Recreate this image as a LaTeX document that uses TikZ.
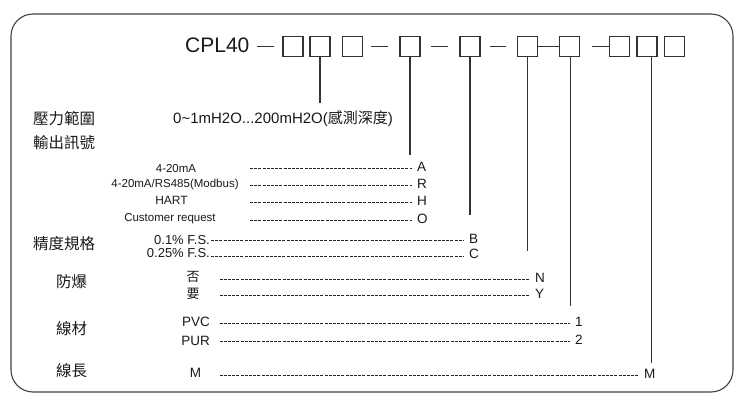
\documentclass[tikz,border=0pt]{standalone}
\usepackage{fontspec}
\setmainfont{Liberation Sans}
\newfontfamily\cjk{Noto Sans CJK TC}
\usetikzlibrary{calc}

\begin{document}
\begin{tikzpicture}[x=1pt, y=-1pt,
	slot/.style={draw=black!80, line width=1.2pt, minimum width=20pt, minimum height=20pt, inner sep=0pt},
	bar/.style={draw=black!80, line width=1.2pt},
	tick/.style={draw=black!80, line width=1.3pt},
	optline/.style={draw=black!85, line width=0.7pt, dash pattern=on 3pt off 1.2pt},
	head/.style={inner sep=0pt, anchor=base west, text=black!90, font=\cjk\fontsize{15.5}{15.5}\selectfont},
	opt/.style={inner sep=0pt, text=black!90, font=\fontsize{11.5}{11.5}\selectfont},
	code/.style={inner sep=5pt, anchor=base west, text height=6pt, text depth=0pt, text=black!90, font=\fontsize{13.5}{13.5}\selectfont}]
			%%%%% START %%%%%
			
			\useasboundingbox (0, 0) rectangle (746, 400);
			\draw[black!75, line width=1.1pt, rounded corners=22pt] (11, 14) rectangle (733, 392);
			
			%%%%% model code %%%%%
			\node[inner sep=0pt, anchor=base west, text=black!90, font=\fontsize{21}{21}\selectfont] (cpl) at (185, 52.5) {CPL40};
			\node[slot] (b1) at (293, 46.3) {};
			\node[slot] (b2) at (320, 46.3) {};
			\node[slot] (b3) at (352.3, 46.3) {};
			\node[slot] (b4) at (410, 46.3) {};
			\node[slot] (b5) at (470, 46.3) {};
			\node[slot] (b6) at (527.2, 46.3) {};
			\node[slot] (b7) at (569.5, 46.3) {};
			\node[slot] (b8) at (619.5, 46.3) {};
			\node[slot] (b9) at (647, 46.3) {};
			\node[slot] (b10) at (674.5, 46.3) {};
			
			\draw[bar] ([xshift=-8pt]b1.west) -- +(-17, 0);
			\draw[bar] ([xshift=-11.5pt]b4.west) -- +(-16.6, 0);
			\draw[bar] ([xshift=-11.5pt]b5.west) -- +(-16.6, 0);
			\draw[bar] ([xshift=-10.5pt]b6.west) -- +(-16.6, 0);
			\draw[bar] (b6.east) -- (b7.west);
			\draw[bar] (b8.west) -- +(-16.6, 0);
			
			%%%%% left headings %%%%%
			\node[head] (hRange) at (33, 124) {壓力範圍};
			\node[head] (hOut) at (33, 148.6) {輸出訊號};
			\node[head] (hAcc) at (33, 249.9) {精度規格};
			\node[head] (hEx) at (56, 287.6) {防爆};
			\node[head] (hCab) at (56, 334.2) {線材};
			\node[head] (hLen) at (56, 376.9) {線長};
			
			%%%%% range %%%%%
			\node[inner sep=0pt, anchor=base west, text=black!90, font=\fontsize{15}{15}\selectfont] (vRange) at (173, 123.5) {0\textasciitilde1mH2O...200mH2O({\cjk 感測深度})};
			
			%%%%% output %%%%%
			\node[opt, anchor=base] (oA) at (176, 172.4) {4-20mA};
			\node[opt, anchor=base] (oR) at (175, 187.4) {4-20mA/RS485(Modbus)};
			\node[opt, anchor=base, font=\fontsize{12}{12}\selectfont] (oH) at (171.5, 204.3) {HART};
			\node[opt, anchor=base] (oO) at (170, 221) {Customer request};
			\node[code] (lA) at (412, 171.6) {A};
			\node[code] (lR) at (412, 188.2) {R};
			\node[code] (lH) at (412, 205.2) {H};
			\node[code] (lO) at (412, 223) {O};
			\coordinate (s1) at (250, 0);
			\draw[optline] (s1 |- lA.west) -- (lA.west);
			\draw[optline] (s1 |- lR.west) -- (lR.west);
			\draw[optline] (s1 |- lH.west) -- (lH.west);
			\draw[optline] (s1 |- lO.west) -- (lO.west);
			
			%%%%% accuracy %%%%%
			\node[opt, anchor=base east, inner sep=1pt, font=\fontsize{13}{13}\selectfont] (oB) at (211, 244.5) {0.1\% F.S.};
			\node[opt, anchor=base east, inner sep=1pt, font=\fontsize{13}{13}\selectfont] (oC) at (211, 257.8) {0.25\% F.S.};
			\node[code] (lB) at (464, 243.2) {B};
			\node[code] (lC) at (464, 258.9) {C};
			\draw[optline] (oB.east |- lB.west) -- (lB.west);
			\draw[optline] (oC.east |- lC.west) -- (lC.west);
			
			%%%%% explosion proof %%%%%
			\node[opt, anchor=base west, font=\cjk\fontsize{13}{13}\selectfont] (oN) at (186.5, 281.6) {否};
			\node[opt, anchor=base west, font=\cjk\fontsize{13}{13}\selectfont] (oY) at (186.5, 298.9) {要};
			\node[code] (lN) at (530, 282.1) {N};
			\node[code] (lY) at (530, 298.8) {Y};
			\coordinate (s3) at (219.5, 0);
			\draw[optline] (s3 |- lN.west) -- (lN.west);
			\draw[optline] (s3 |- lY.west) -- (lY.west);
			
			%%%%% cable %%%%%
			\node[opt, anchor=base east, font=\fontsize{13.5}{13.5}\selectfont] (o1) at (210, 326.5) {PVC};
			\node[opt, anchor=base east, font=\fontsize{13.5}{13.5}\selectfont] (o2) at (210, 345.5) {PUR};
			\node[code] (l1) at (570, 326.5) {1};
			\node[code] (l2) at (570, 344.8) {2};
			\draw[optline] (s3 |- l1.west) -- (l1.west);
			\draw[optline] (s3 |- l2.west) -- (l2.west);
			
			%%%%% cable length %%%%%
			\node[opt, anchor=base, font=\fontsize{13.5}{13.5}\selectfont] (oM) at (195.5, 377.5) {M};
			\node[code] (lM) at (639, 378.8) {M};
			\draw[optline] (s3 |- lM.west) -- (lM.west);
			
			%%%%% ticks %%%%%
			\coordinate (tRange) at (320, 103);
			\coordinate (tOut) at (410, 155);
			\coordinate (tAcc) at (470, 215);
			\coordinate (tEx) at (527.3, 250.7);
			\coordinate (tCab) at (570.7, 306);
			\coordinate (tLen) at (651.7, 362.7);
			\draw[tick] (b2.south) -- (tRange);
			\draw[tick] (b4.south) -- (tOut);
			\draw[tick] (b5.south) -- (tAcc);
			\draw[tick] (b6.south -| tEx) -- (tEx);
			\draw[tick] (b7.south -| tCab) -- (tCab);
			\draw[tick] (b9.south -| tLen) -- (tLen);
			
			%%%%% END %%%%%
\end{tikzpicture}
\end{document}
